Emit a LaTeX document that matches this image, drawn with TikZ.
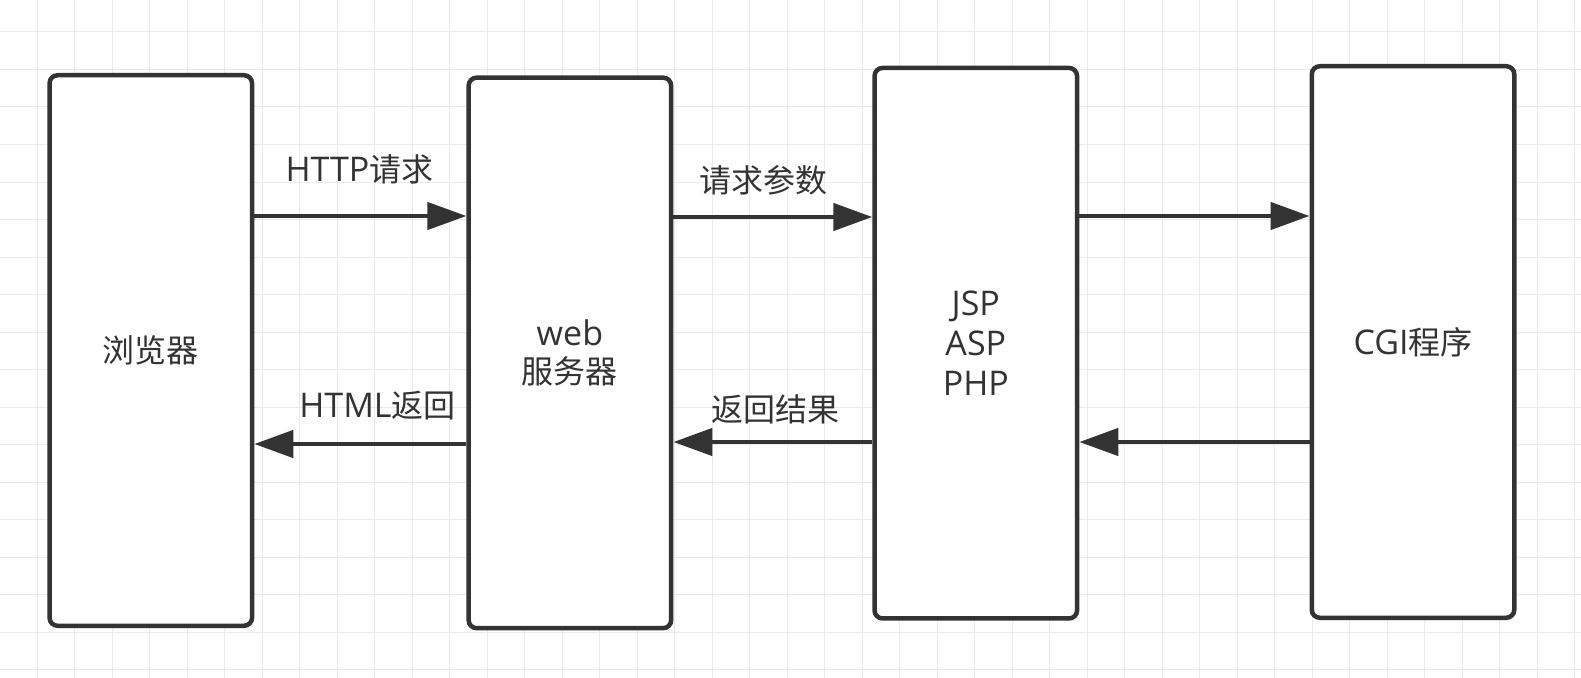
\documentclass[tikz,border=0pt]{standalone}
\usepackage{fontspec}
\usetikzlibrary{arrows.meta}
\setmainfont{Open Sans}
\newfontfamily\cjk{Noto Sans CJK SC}
\newcommand{\lat}{\fontsize{34bp}{40bp}\selectfont}
\newcommand{\zh}[1]{{\cjk\fontsize{32bp}{40bp}\selectfont #1}}
\definecolor{ink}{HTML}{333333}
\definecolor{gridc}{HTML}{EBEBEB}
\tikzset{
  box/.style={draw=ink, line width=4.5bp, rounded corners=8bp, fill=white,
    minimum width=202.5bp, minimum height=550.5bp, inner sep=0pt,
    text=ink, align=center, font=\lat},
  lbl/.style={text=ink, inner sep=0pt, font=\lat},
  arr/.style={draw=ink, line width=4.5bp, -{Triangle[length=39bp,width=27bp]}}
}
\begin{document}
\begin{tikzpicture}[x=1bp,y=-1bp]
\useasboundingbox (0,0) rectangle (1581,678);
\fill[white] (0,0) rectangle (1581,678);
\foreach \i in {0,...,41} {\draw[gridc, line width=1bp] (37+37.5*\i,0) -- (37+37.5*\i,678);}
\foreach \j in {0,...,17} {\draw[gridc, line width=1bp] (0,32+37.5*\j) -- (1581,32+37.5*\j);}

\node[box] (b1) at (150.8,350.5) {\zh{浏览器}};
\node[box] (b2) at (569.9,352.9) {web\\[-2bp]\zh{服务器}};
\node[box] (b3) at (975.8,343.2) {JSP\\ASP\\PHP};
\node[box, minimum height=551.5bp] (b4) at (1413,342) {CGI\zh{程序}};

\coordinate (y1) at (0,216);
\coordinate (y2) at (0,444);
\coordinate (y3) at (0,217);
\coordinate (y4) at (0,442);
\coordinate (y5) at (0,216);
\coordinate (y6) at (0,442);

\draw[arr] (b1.east |- y1) -- (b2.west |- y1);
\draw[arr] (b2.west |- y2) -- (b1.east |- y2);
\draw[arr] (b2.east |- y3) -- (b3.west |- y3);
\draw[arr] (b3.west |- y4) -- (b2.east |- y4);
\draw[arr] (b3.east |- y5) -- (b4.west |- y5);
\draw[arr] (b4.west |- y6) -- (b3.east |- y6);

\node[lbl] (l1) at (359.5,169) {HTTP\zh{请求}};
\node[lbl] (l2) at (377.5,406) {HTML\zh{返回}};
\node[lbl] (l3) at (763.5,180.5) {\zh{请求参数}};
\node[lbl] (l4) at (775,409) {\zh{返回结果}};
\end{tikzpicture}
\end{document}
